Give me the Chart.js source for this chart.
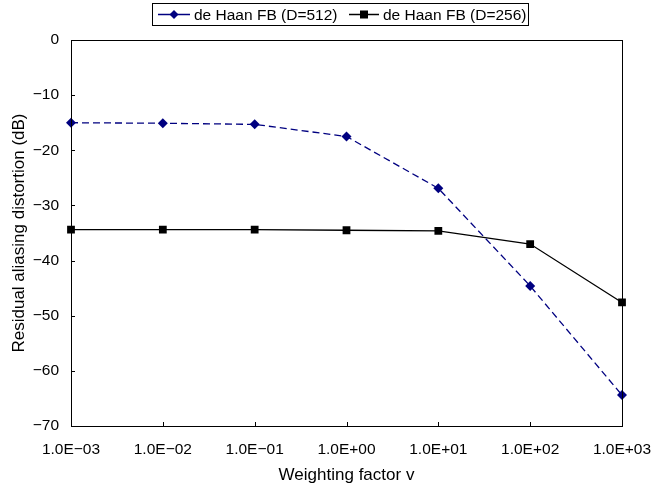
<!DOCTYPE html>
<html>
<head>
<meta charset="utf-8">
<script src="https://cdn.jsdelivr.net/npm/chart.js@4"></script>
<style>
html,body{margin:0;padding:0;background:#fff;}
canvas{display:block;}
</style>
</head>
<body>
<canvas id="c" width="653" height="487"></canvas>
<script>
const categories = ['1.0E-03','1.0E-02','1.0E-01','1.0E+00','1.0E+01','1.0E+02','1.0E+03'];
const seriesD512 = [-15.0, -15.1, -15.3, -17.5, -26.9, -44.6, -64.4];
const seriesD256 = [-34.4, -34.4, -34.4, -34.5, -34.6, -37.0, -47.6];
const seriesLabels = ['de Haan FB (D=512)', 'de Haan FB (D=256)'];
const xTitle = 'Weighting factor v';
const yTitle = 'Residual aliasing distortion (dB)';

const FONT = "'Liberation Sans', Arial, sans-serif";
const minus = s => String(s).replace(/-/g, '\u2212');

const frameAndLegend = {
  id: 'frameAndLegend',
  afterDraw(chart) {
    const ctx = chart.ctx;
    const a = chart.chartArea;
    ctx.save();
    ctx.strokeStyle = '#000';
    ctx.lineWidth = 1;
    ctx.strokeRect(Math.round(a.left) + 0.5, Math.round(a.top) + 0.5,
                   Math.round(a.right - a.left), Math.round(a.bottom - a.top));
    const xs = chart.scales.x, ys = chart.scales.y;
    ctx.beginPath();
    xs.ticks.forEach((t, i) => {
      const px = Math.round(xs.getPixelForTick(i)) + 0.5;
      ctx.moveTo(px, a.bottom); ctx.lineTo(px, a.bottom - 4);
    });
    ys.ticks.forEach((t, i) => {
      const py = Math.round(ys.getPixelForTick(i)) + 0.5;
      ctx.moveTo(a.left, py); ctx.lineTo(a.left + 4, py);
    });
    ctx.stroke();
    // legend
    ctx.strokeRect(152.5, 3.5, 376, 22);
    const items = [{x0: 158, x1: 190, tx: 194}, {x0: 349, x1: 379, tx: 383}];
    ctx.font = '15.5px ' + FONT;
    ctx.textBaseline = 'middle';
    ctx.fillStyle = '#000';
    chart.data.datasets.forEach((ds, i) => {
      const it = items[i];
      const y = 14.5;
      ctx.save();
      ctx.strokeStyle = ds.borderColor;
      ctx.lineWidth = 1.5;
      ctx.beginPath(); ctx.moveTo(it.x0, y); ctx.lineTo(it.x1, y); ctx.stroke();
      const cx = (it.x0 + it.x1) / 2;
      ctx.fillStyle = ds.pointBackgroundColor;
      ctx.beginPath();
      if (ds.pointStyle === 'rectRot') {
        const r = 4.5;
        ctx.moveTo(cx, y - r); ctx.lineTo(cx + r, y); ctx.lineTo(cx, y + r); ctx.lineTo(cx - r, y);
        ctx.closePath(); ctx.fill();
      } else {
        ctx.fillRect(cx - 4, y - 4, 8, 8);
      }
      ctx.restore();
      ctx.fillText(ds.label, it.tx, y + 1);
    });
    ctx.restore();
  }
};

new Chart(document.getElementById('c'), {
  type: 'line',
  data: {
    labels: categories,
    datasets: [
      {
        label: seriesLabels[0],
        data: seriesD512,
        borderColor: '#000080',
        backgroundColor: '#000080',
        borderWidth: 1.3,
        borderDash: [7, 4],
        pointStyle: 'rectRot',
        pointRadius: 5,
        pointBackgroundColor: '#000080',
        pointBorderColor: '#000080',
        pointBorderWidth: 0,
        tension: 0,
        fill: false
      },
      {
        label: seriesLabels[1],
        data: seriesD256,
        borderColor: '#000000',
        backgroundColor: '#000000',
        borderWidth: 1.3,
        pointStyle: 'rect',
        pointRadius: 5.5,
        pointBackgroundColor: '#000000',
        pointBorderColor: '#000000',
        pointBorderWidth: 0,
        tension: 0,
        fill: false
      }
    ]
  },
  options: {
    responsive: false,
    animation: false,
    devicePixelRatio: 1,
    layout: { padding: { top: 40, right: 31, left: 0, bottom: 0 } },
    plugins: { legend: { display: false }, tooltip: { enabled: false } },
    scales: {
      x: {
        type: 'category',
        offset: false,
        grid: { display: true, drawOnChartArea: false, drawTicks: false, color: '#000' },
        border: { display: true, color: '#000', width: 1 },
        ticks: {
          color: '#000', font: { family: FONT, size: 15.5 }, padding: 14,
          maxRotation: 0, autoSkip: false,
          callback: function (v, i) { return minus(this.getLabelForValue(v)); }
        },
        title: { display: true, text: xTitle, color: '#000', font: { family: FONT, size: 17 }, padding: { top: 1, bottom: 1 } },
        afterFit: s => { s.height = 61; s.paddingLeft = 0; s.paddingRight = 0; }
      },
      y: {
        min: -70, max: 0,
        grid: { display: true, drawOnChartArea: false, drawTicks: false, color: '#000' },
        border: { display: true, color: '#000', width: 1 },
        ticks: {
          stepSize: 10, color: '#000', font: { family: FONT, size: 15.5 }, padding: 12,
          callback: v => minus(v)
        },
        title: { display: true, text: yTitle, color: '#000', font: { family: FONT, size: 17 }, padding: { top: 9, bottom: 0 } },
        afterFit: s => { s.width = 71; s.paddingTop = 0; s.paddingBottom = 0; }
      }
    }
  },
  plugins: [frameAndLegend]
});
</script>
</body>
</html>
